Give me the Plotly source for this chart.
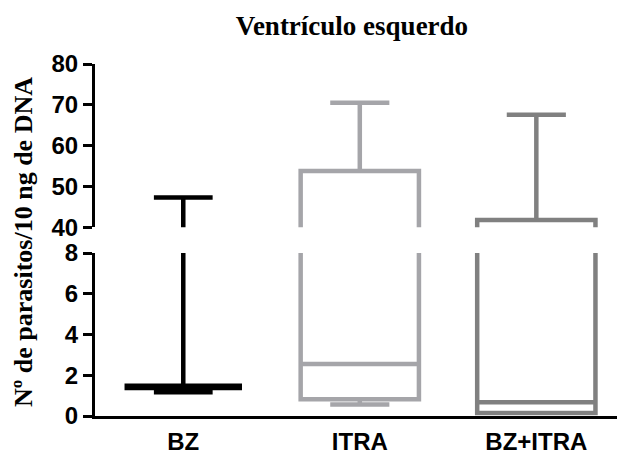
import plotly.graph_objects as go

# Data
categories = ["BZ", "ITRA", "BZ+ITRA"]
lower_fence = [1.16, 0.56, 0.15]
q1_vals = [1.38, 0.82, 0.15]
median_vals = [1.43, 2.55, 0.67]
q3_vals = [1.48, 53.8, 41.8]
upper_fence = [47.3, 70.5, 67.6]
colors = ["#000000", "#a5a5a9", "#808080"]
box_widths = [0.64, 0.67, 0.67]
cap_widths = [0.52, 0.5, 0.5]

lower_ticks = [0, 2, 4, 6, 8]
upper_ticks = [40, 50, 60, 70, 80]

fig = go.Figure()
for i, cat in enumerate(categories):
    for ax in ["y", "y2"]:
        fig.add_trace(go.Box(
            x=[cat], q1=[q1_vals[i]], median=[median_vals[i]], q3=[q3_vals[i]],
            lowerfence=[lower_fence[i]], upperfence=[upper_fence[i]],
            boxpoints=False, width=box_widths[i], whiskerwidth=cap_widths[i],
            line=dict(color=colors[i], width=4.5),
            fillcolor="rgba(0,0,0,0)", showlegend=False, yaxis=ax,
            hoverinfo="skip",
        ))

tick_font = dict(family="Arial, Liberation Sans", size=24, color="black", weight="bold")
axis_common = dict(showgrid=False, zeroline=False, showline=True, linecolor="black",
                   linewidth=3, ticks="outside", ticklen=9, tickwidth=3, tickcolor="black",
                   tickfont=tick_font, automargin=False)

fig.update_layout(
    width=617, height=456,
    margin=dict(l=95, r=0, t=64, b=40),
    paper_bgcolor="white", plot_bgcolor="white",
    boxmode="overlay",
    xaxis=dict(type="category", categoryorder="array", categoryarray=categories,
               range=[-0.5, 2.457], showgrid=False, zeroline=False, showline=True,
               linecolor="black", linewidth=3, ticks="", anchor="y", ticklabelstandoff=2,
               automargin=False,
               tickfont=dict(family="Arial, Liberation Sans", size=24, color="black", weight="bold")),
    yaxis=dict(domain=[0, 0.463], range=[0, 8], tickvals=lower_ticks, **axis_common),
    yaxis2=dict(domain=[0.536, 1], range=[40, 80], tickvals=upper_ticks, anchor="x", **axis_common),
    title=dict(text="Ventrículo esquerdo", x=352/617, xanchor="center", xref="container",
               y=1 - 26/456, yanchor="middle", yref="container",
               font=dict(family="Times New Roman, Liberation Serif", size=27, color="black", weight="bold")),
    annotations=[dict(
        text="Nº de parasitos/10 ng de DNA", textangle=-90,
        xref="paper", yref="paper", x=(24 - 95) / 522, y=(416 - 242) / 352,
        xanchor="center", yanchor="middle", showarrow=False,
        font=dict(family="Times New Roman, Liberation Serif", size=26, color="black", weight="bold"),
    )],
)

fig.write_html("out.html", config={"displayModeBar": False},
               post_script="document.body.style.margin='0';document.body.style.padding='0';")
